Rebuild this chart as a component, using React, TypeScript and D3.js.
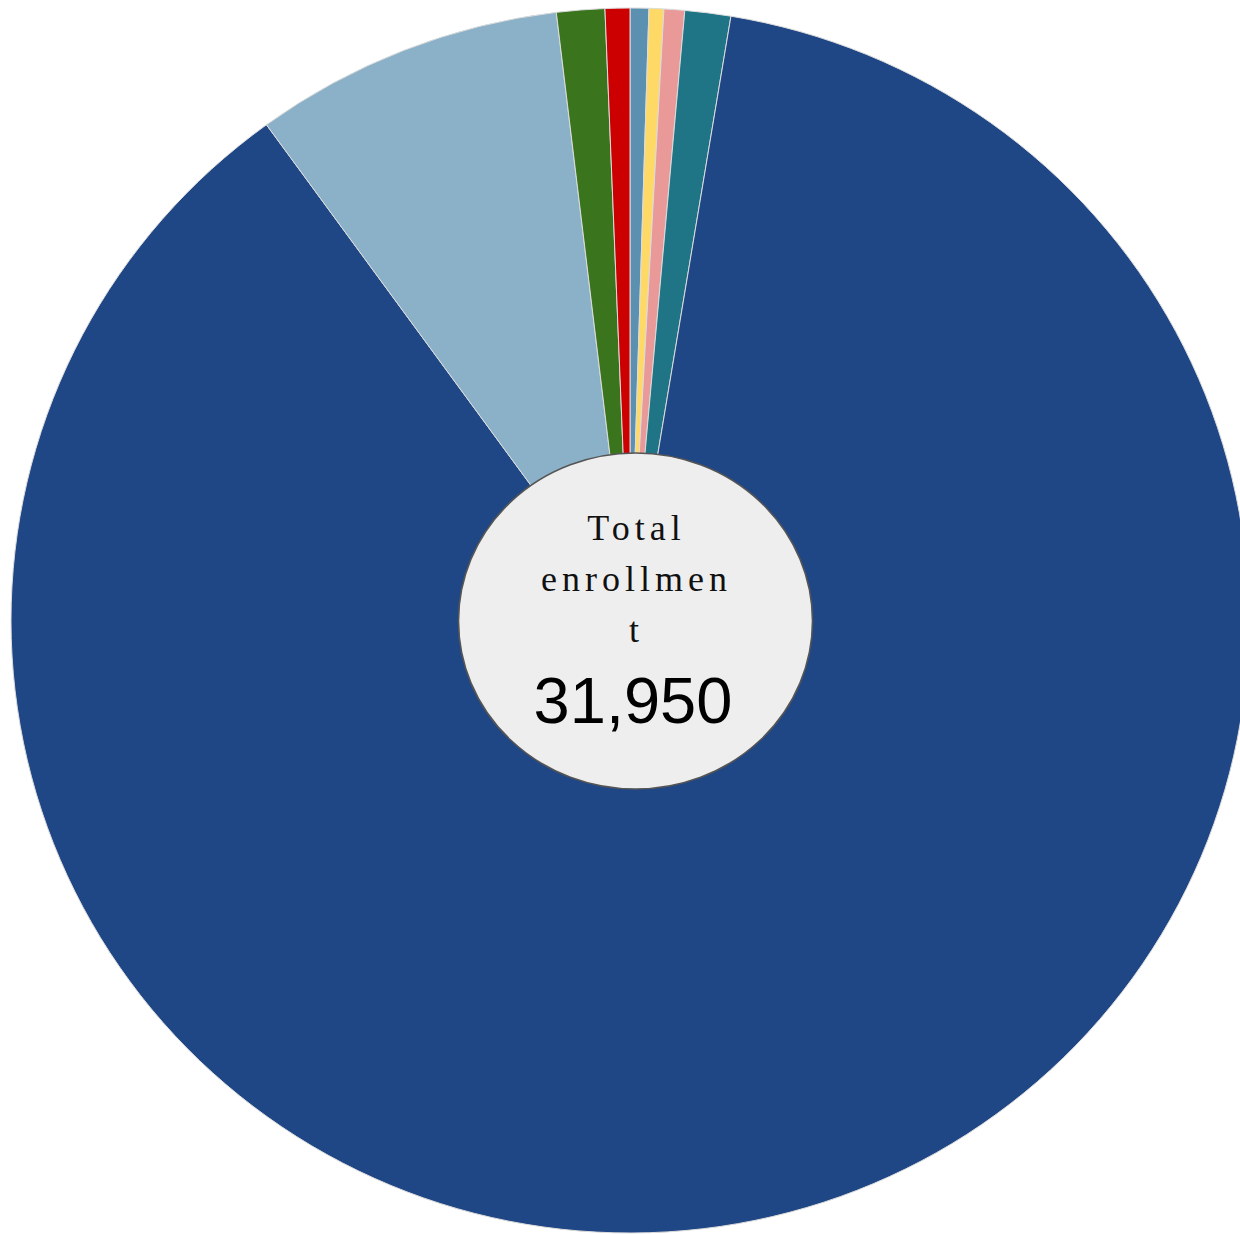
import React from "react";
import * as d3 from "d3";

const categories = [
  "Asian",
  "Two or more races",
  "Native Hawaiian/Pacific Islander",
  "Black",
  "White",
  "Hispanic",
  "American Indian",
  "Unknown",
];
const enrollment = [156, 123, 172, 382, 27925, 2585, 401, 206];
const sliceColors = [
  "#5b90b0",
  "#ffd966",
  "#ea9999",
  "#1f7585",
  "#1f4685",
  "#8ab1c7",
  "#3a751e",
  "#cc0000",
];
const totalLabel = ["Total", "enrollmen", "t"];
const totalValue = 31950;

export default function App() {
  const W = 1240;
  const H = 1234;
  const cx = 630;
  const cy = 620.5;
  const ry = 612.5;
  const rx = 619;

  const data = categories.map((c, i) => ({ name: c, value: enrollment[i], color: sliceColors[i] }));
  const pie = d3
    .pie<{ name: string; value: number; color: string }>()
    .sort(null)
    .value((d) => d.value);
  const arcs = pie(data);
  const arc = d3
    .arc<d3.PieArcDatum<{ name: string; value: number; color: string }>>()
    .innerRadius(0)
    .outerRadius(ry);

  const fmt = d3.format(",");
  const ls = 5;

  return (
    <svg
      width={W}
      height={H}
      style={{ position: "absolute", left: 0, top: 0, background: "#ffffff" }}
    >
      <g transform={`translate(${cx},${cy}) scale(${rx / ry},1)`}>
        {arcs.map((a, i) => (
          <path
            key={i}
            d={arc(a) || ""}
            fill={a.data.color}
            stroke="#dcdcdc"
            strokeWidth={1}
            vectorEffect="non-scaling-stroke"
          />
        ))}
      </g>
      <ellipse cx={635.5} cy={621} rx={177} ry={168} fill="#eeeeee" stroke="#555555" strokeWidth={1.6} />
      {totalLabel.map((t, i) => (
        <text
          key={i}
          x={634 + ls / 2}
          y={540 + i * 51}
          textAnchor="middle"
          fontFamily="'Liberation Serif', 'Times New Roman', serif"
          fontSize={36}
          letterSpacing={ls}
          fill="#111"
        >
          {t}
        </text>
      ))}
      <text
        x={633}
        y={723}
        textAnchor="middle"
        fontFamily="'Liberation Sans', Arial, sans-serif"
        fontSize={65}
        fill="#000"
      >
        {fmt(totalValue)}
      </text>
    </svg>
  );
}
